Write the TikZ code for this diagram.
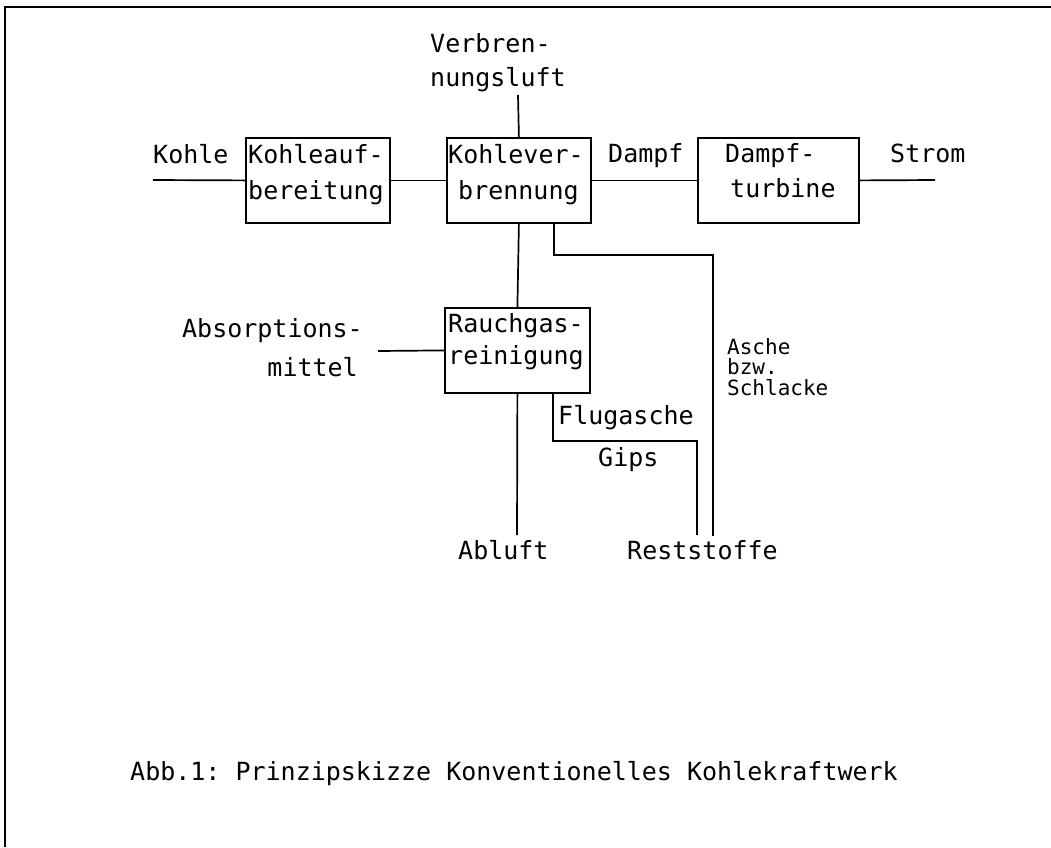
\documentclass[tikz,border=0pt]{standalone}
\usepackage{fontspec}
\setmonofont{DejaVu Sans Mono}
\usetikzlibrary{calc}
\begin{document}
\begin{tikzpicture}[x=1pt,y=-1pt,
  blk/.style={draw,line width=1.8pt,rectangle,inner sep=0pt,anchor=north west},
  conn/.style={line width=1.7pt},
  frm/.style={line width=1.8pt},
  lbl/.style={inner sep=0pt,font=\ttfamily\fontsize{25}{25}\selectfont,anchor=base west},
  lblr/.style={lbl,anchor=base east},
  lbls/.style={inner sep=0pt,font=\ttfamily\fontsize{21}{21}\selectfont,anchor=base west}]
\useasboundingbox (0,0) rectangle (1051,847);
% frame
\coordinate (f0) at (5,847);
\coordinate (f1) at (5,7);
\coordinate (f2) at (1051,7);
\draw[frm] (f0) -- (f1) -- (f2);
% blocks
\node[blk,minimum width=144pt,minimum height=85pt] (b1) at (245,137) {};
\node[blk,minimum width=144pt,minimum height=85pt] (b2) at (446,137) {};
\node[blk,minimum width=161pt,minimum height=85pt] (b3) at (697,137) {};
\node[blk,minimum width=145pt,minimum height=85pt] (b4) at (444,307) {};
% block texts
\node[lbl] (t1a) at (248,163) {Kohleauf-};
\node[lbl] (t1b) at (248,199) {bereitung};
\node[lbl] (t2a) at (448,163) {Kohlever-};
\node[lbl] (t2b) at (458,199) {brennung};
\node[lbl] (t3a) at (725,162) {Dampf-};
\node[lbl] (t3b) at (730,197) {turbine};
\node[lbl] (t4a) at (448,332) {Rauchgas-};
\node[lbl] (t4b) at (448,364) {reinigung};
% labels
\node[lbl] (lv1) at (430,52) {Verbren-};
\node[lbl] (lv2) at (430,86) {nungsluft};
\node[lbl] (lk) at (153,163) {Kohle};
\node[lbl] (ld) at (608,162) {Dampf};
\node[lbl] (ls) at (890,162) {Strom};
\node[lblr] (la1) at (363,337) {Absorptions-};
\node[lblr] (la2) at (358,376) {mittel};
\node[lbls] (lc1) at (727,354) {Asche};
\node[lbls] (lc2) at (727,374) {bzw.};
\node[lbls] (lc3) at (727,395) {Schlacke};
\node[lbl] (lf) at (558,424) {Flugasche};
\node[lbl] (lg) at (598,466) {Gips};
\node[lbl] (lab) at (458,559) {Abluft};
\node[lbl] (lr) at (627,559) {Reststoffe};
\node[lbl] (cap) at (130,780) {Abb.1: Prinzipskizze Konventionelles Kohlekraftwerk};
% free ends
\coordinate (kin) at (153,180);
\coordinate (sout) at (935,180);
\coordinate (vin) at (518,95);
\coordinate (ain) at (378,351);
\coordinate (abo) at (517,535);
\coordinate (a1) at (554,222);
\coordinate (a2) at (554,255);
\coordinate (a3) at (713,255);
\coordinate (a4) at (713,536);
\coordinate (g1) at (553,392);
\coordinate (g2) at (553,441);
\coordinate (g3) at (697,441);
\coordinate (g4) at (697,535);
% connectors
\draw[conn] (kin) -- (b1.west);
\draw[conn] (b1.east) -- (b2.west);
\draw[conn] (b2.east) -- (b3.west);
\draw[conn] (b3.east) -- (sout);
\draw[conn] (vin) -- (b2.north);
\draw[conn] (b2.south) -- (b4.north);
\draw[conn] (ain) -- (b4.west);
\draw[conn] (b4.south) -- (abo);
\draw[conn] (a1) -- (a2) -- (a3) -- (a4);
\draw[conn] (g1) -- (g2) -- (g3) -- (g4);
\end{tikzpicture}
\end{document}
